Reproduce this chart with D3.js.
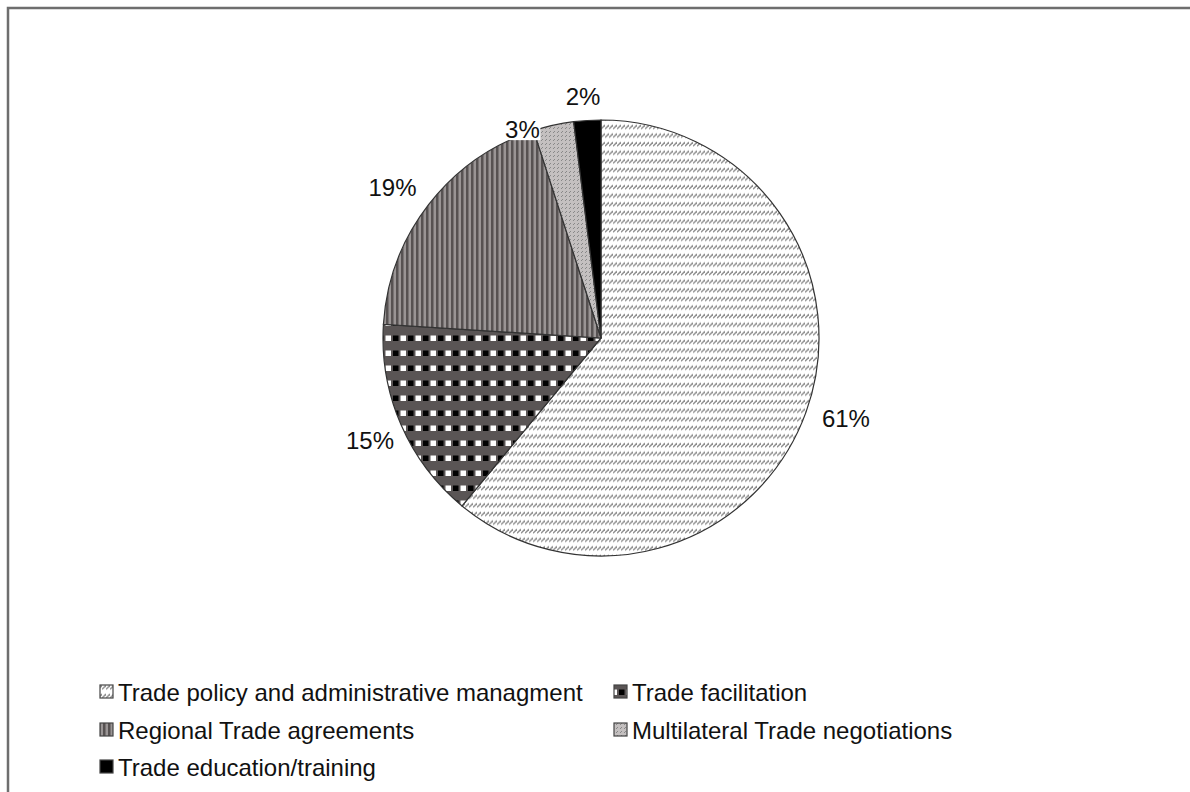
<!DOCTYPE html>
<html>
<head>
<meta charset="utf-8">
<script src="https://cdn.jsdelivr.net/npm/d3@7"></script>
<style>
  body { margin: 0; background: #fff; }
  text { font-family: "Liberation Sans", Arial, sans-serif; fill: #111; }
</style>
</head>
<body>
<svg id="pie" width="1190" height="792"></svg>
<script>
// chart data
const categories = [
  'Trade policy and administrative managment',
  'Trade facilitation',
  'Regional Trade agreements',
  'Multilateral Trade negotiations',
  'Trade education/training'
];
const shares = [61, 15, 19, 3, 2];
const patternIds = ['p-policy', 'p-facil', 'p-regional', 'p-multi', 'p-edu'];

// layout
const width_pie = 1190;
const height_pie = 792;
const cx = 601, cy = 338, radius = 218;
const labelRadius = 255;
// small slices get pushed aside like the original label placer did
const labelNudge = [[5, -6], [3, 1], [-7, 6], [-23, 40], [-2, 13]];

function Draw_Pie(){
  const svg = d3.select('#pie');
  const defs = svg.append('defs');

  // hatched rows of little slashes
  let p = defs.append('pattern').attr('id', 'p-policy').attr('patternUnits', 'userSpaceOnUse')
    .attr('width', 4).attr('height', 8.6);
  p.append('rect').attr('width', 4).attr('height', 8.6).attr('fill', '#fff');
  p.append('path').attr('d', 'M0,6 L4,2').attr('stroke', '#8f8f8f').attr('stroke-width', 1.5);

  // checker of black/white squares on dark grey
  p = defs.append('pattern').attr('id', 'p-facil').attr('patternUnits', 'userSpaceOnUse')
    .attr('width', 15).attr('height', 15).attr('x', cx).attr('y', cy);
  p.append('rect').attr('width', 15).attr('height', 15).attr('fill', '#5a5555');
  p.append('rect').attr('x', 1).attr('y', 4.5).attr('width', 5.5).attr('height', 5.5).attr('fill', '#000');
  p.append('rect').attr('x', 8.5).attr('y', 4.5).attr('width', 5.5).attr('height', 5.5).attr('fill', '#fff');

  // vertical stripes
  p = defs.append('pattern').attr('id', 'p-regional').attr('patternUnits', 'userSpaceOnUse')
    .attr('width', 5).attr('height', 5);
  p.append('rect').attr('width', 5).attr('height', 5).attr('fill', '#9a9595');
  p.append('rect').attr('width', 2.5).attr('height', 5).attr('fill', '#575252');

  // light grey with dark specks
  p = defs.append('pattern').attr('id', 'p-multi').attr('patternUnits', 'userSpaceOnUse')
    .attr('width', 4).attr('height', 4);
  p.append('rect').attr('width', 4).attr('height', 4).attr('fill', '#c4c0c0');
  p.append('path').attr('d', 'M0,3 L2,1').attr('stroke', '#888').attr('stroke-width', 1);

  p = defs.append('pattern').attr('id', 'p-edu').attr('patternUnits', 'userSpaceOnUse')
    .attr('width', 4).attr('height', 4);
  p.append('rect').attr('width', 4).attr('height', 4).attr('fill', '#000');

  // frame (right and bottom edge are cut off in the original)
  svg.append('path')
    .attr('d', `M8,${height_pie} L8,8 L${width_pie},8`)
    .attr('fill', 'none')
    .attr('stroke', '#6e6e6e')
    .attr('stroke-width', 2.5);

  const pie = d3.pie().sort(null).value(d => d);
  const arcs = pie(shares);
  const arc = d3.arc().innerRadius(0).outerRadius(radius);
  const labelArc = d3.arc().innerRadius(labelRadius).outerRadius(labelRadius);

  const g = svg.append('g').attr('transform', `translate(${cx},${cy})`);

  g.selectAll('path.slice')
    .data(arcs)
    .enter()
    .append('path')
    .attr('class', 'slice')
    .attr('d', arc)
    .attr('fill', (d, i) => `url(#${patternIds[i]})`)
    .attr('stroke', '#333')
    .attr('stroke-width', 1.2);

  const labels = g.selectAll('g.pct')
    .data(arcs)
    .enter()
    .append('g')
    .attr('class', 'pct')
    .attr('transform', (d, i) => {
      const c = labelArc.centroid(d);
      return `translate(${c[0] + labelNudge[i][0]},${c[1] + labelNudge[i][1]})`;
    });

  // white box behind labels that sit on the pie edge
  labels.filter(d => d.data < 5)
    .append('rect')
    .attr('x', -18).attr('y', -11)
    .attr('width', 36).attr('height', 22)
    .attr('fill', '#fff');

  labels.append('text')
    .attr('text-anchor', 'middle')
    .attr('dominant-baseline', 'central')
    .style('font-size', '24px')
    .text(d => d.data + '%');

  // legend, two columns
  const legendCols = [118, 632];
  const legendRows = [692, 730, 767];
  const legend = svg.selectAll('g.legend')
    .data(categories)
    .enter()
    .append('g')
    .attr('class', 'legend')
    .attr('transform', (d, i) => `translate(${legendCols[i % 2]},${legendRows[Math.floor(i / 2)]})`);

  legend.append('rect')
    .attr('x', -18).attr('y', -7)
    .attr('width', 13).attr('height', 13)
    .attr('fill', (d, i) => `url(#${patternIds[i]})`)
    .attr('stroke', '#444')
    .attr('stroke-width', 1.2);

  legend.append('text')
    .attr('x', 0)
    .attr('dominant-baseline', 'central')
    .style('font-size', '24px')
    .text(d => d);
}

Draw_Pie();
</script>
</body>
</html>
